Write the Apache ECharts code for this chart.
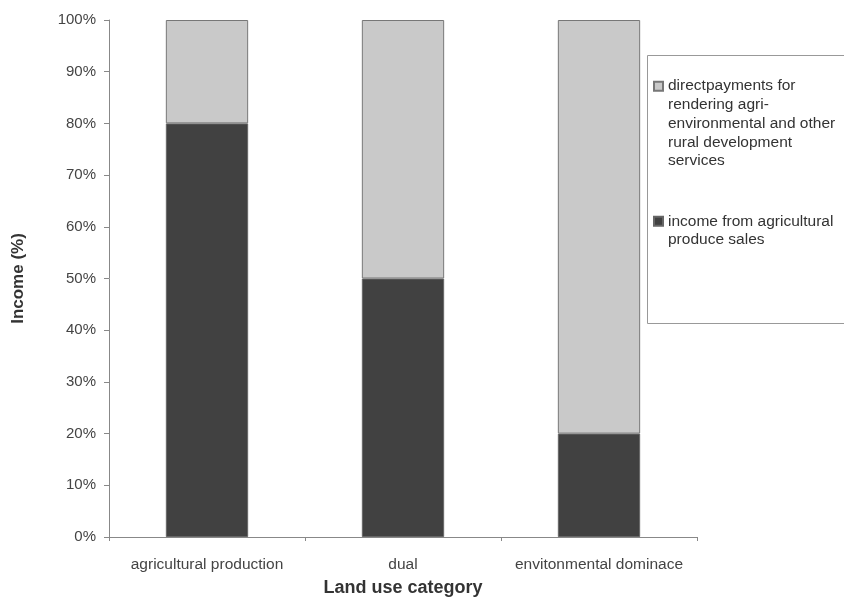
<!DOCTYPE html>
<html>
<head>
<meta charset="utf-8">
<script src="https://cdn.jsdelivr.net/npm/echarts@6/dist/echarts.min.js"></script>
<style>
  html, body { margin: 0; padding: 0; background: #fff; }
  #chart { width: 844px; height: 598px; }
</style>
</head>
<body>
<div id="chart"></div>
<script>
// Land use categories along the x axis
const categories = ['agricultural production', 'dual', 'envitonmental dominace'];

// Share of income (%) per category
const salesIncome = [80, 50, 20];
const directPayments = [20, 50, 80];

// Series names, wrapped the way the legend shows them
const paymentsLines = ['directpayments for', 'rendering agri-', 'environmental and other', 'rural development', 'services'];
const salesLines = ['income from agricultural', 'produce sales'];
const paymentsName = paymentsLines.join('\n');
const salesName = salesLines.join('\n');

const LINE_H = 18.7;

// Legend icons sit beside the first line: pad the label with blank lines above
// so the vertically centred text block puts line one level with the icon.
function legendLabel(name) {
  const n = name.split('\n').length;
  return '\n'.repeat(n - 1) + name;
}

const chart = echarts.init(document.getElementById('chart'), null, { renderer: 'canvas' });

chart.setOption({
  backgroundColor: '#ffffff',
  animation: false,
  textStyle: { fontFamily: 'Liberation Sans, Arial, sans-serif' },
  grid: { left: 109, right: 147, top: 20, bottom: 61, containLabel: false, outerBoundsMode: 'none' },
  xAxis: {
    type: 'category',
    data: categories,
    name: 'Land use category',
    nameLocation: 'middle',
    nameGap: 42,
    nameTextStyle: { fontSize: 18, fontWeight: 'bold', color: '#333' },
    axisLine: { lineStyle: { color: '#888', width: 1 } },
    axisTick: { show: true, inside: false, length: 4, lineStyle: { color: '#888' } },
    axisLabel: { fontSize: 15.5, color: '#444', margin: 20, interval: 0 }
  },
  yAxis: {
    type: 'value',
    min: 0,
    max: 100,
    interval: 10,
    name: 'Income (%)',
    nameLocation: 'middle',
    nameGap: 82,
    nameTextStyle: { fontSize: 17, fontWeight: 'bold', color: '#333' },
    axisLine: { show: true, lineStyle: { color: '#888', width: 1 } },
    axisTick: { show: true, inside: false, length: 5, lineStyle: { color: '#888' } },
    splitLine: { show: false },
    axisLabel: { fontSize: 15, color: '#444', margin: 13, formatter: '{value}%' }
  },
  legend: {
    orient: 'vertical',
    left: 653,
    top: 2,
    padding: 0,
    itemGap: 23,
    itemWidth: 9,
    itemHeight: 9,
    icon: 'rect',
    selectedMode: false,
    data: [paymentsName, salesName],
    formatter: legendLabel,
    textStyle: { fontSize: 15.5, color: '#333', lineHeight: LINE_H }
  },
  graphic: [{
    type: 'rect',
    z: -1,
    shape: { x: 647.5, y: 55.5, width: 220, height: 268 },
    style: { fill: '#fff', stroke: '#999', lineWidth: 1 }
  }],
  series: [
    {
      name: salesName,
      type: 'bar',
      stack: 'income',
      barWidth: '42%',
      data: salesIncome,
      itemStyle: { color: '#414141', borderColor: '#666', borderWidth: 1 }
    },
    {
      name: paymentsName,
      type: 'bar',
      stack: 'income',
      barWidth: '42%',
      data: directPayments,
      itemStyle: { color: '#c9c9c9', borderColor: '#777', borderWidth: 1 }
    }
  ]
});
</script>
</body>
</html>
